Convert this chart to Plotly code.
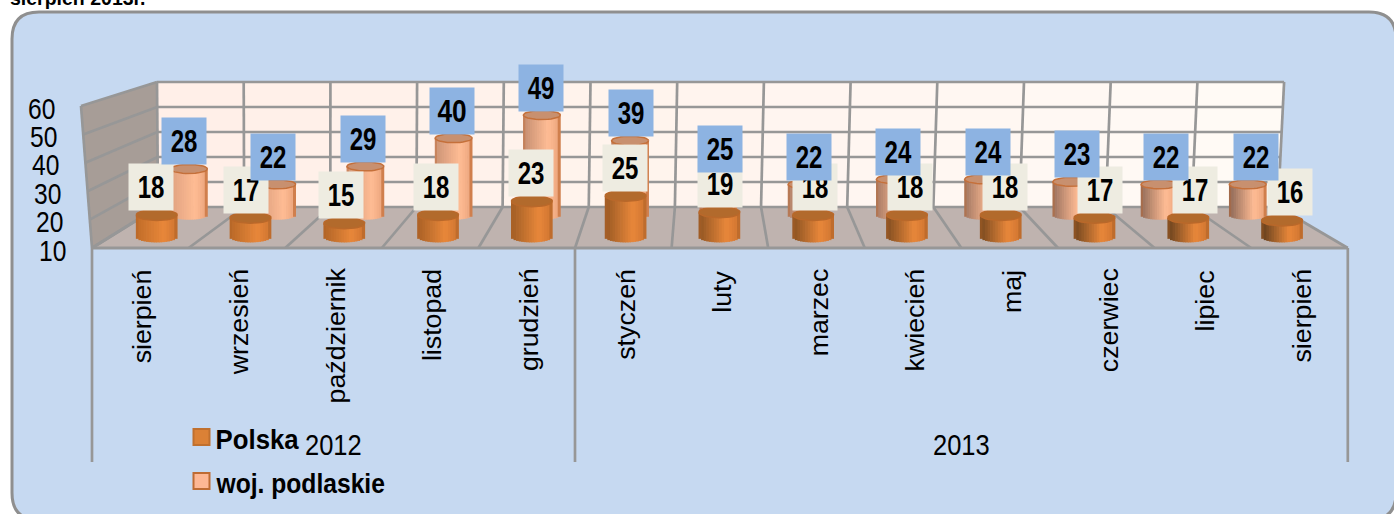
import json
import math
import plotly.graph_objects as go

months = ["sierpień", "wrzesień", "październik", "listopad", "grudzień", "styczeń", "luty",
          "marzec", "kwiecień", "maj", "czerwiec", "lipiec", "sierpień"]
years = ["2012", "2013"]
year_spans = [(0, 5), (5, 13)]
polska = [18, 17, 15, 18, 23, 25, 19, 18, 18, 18, 17, 17, 16]
podlaskie = [28, 22, 29, 40, 49, 39, 25, 22, 24, 24, 23, 22, 22]
value_ticks = [10, 20, 30, 40, 50, 60]
caption = "sierpień 2013r."

W, H = 1394, 514
SANS = "Liberation Sans, Arial, sans-serif"
GRID = "#979797"


def lerp(a, b, t):
    return a + (b - a) * t


def mix(c1, c2, t):
    a = [int(c1[i:i + 2], 16) for i in (1, 3, 5)]
    b = [int(c2[i:i + 2], 16) for i in (1, 3, 5)]
    return "#%02x%02x%02x" % tuple(round(lerp(p, q, t)) for p, q in zip(a, b))


# projection of the 3-D plot box on to the page
def floor_x(i, d):
    return lerp(92 + 96.6 * i, 158 + 86.15 * i, d)


def floor_y(d):
    return 248 - 41 * d


def unit(d):
    return lerp(2.84, 2.5, d)


def wall(i, v):
    h = (v - 10) / 50
    return lerp(158 + 86.15 * i, 157 + 86.7 * i, h), 207 - 125 * h


def side(v):
    h = (v - 10) / 50
    return 92 - 11 * h, 248 - 142 * h


def poly(points):
    return "M " + " L ".join(f"{x:.1f},{y:.1f}" for x, y in points) + " Z"


def line(p, q, width=2.7, color=GRID):
    return dict(type="line", xref="x", yref="y", layer="below", x0=p[0], y0=p[1], x1=q[0], y1=q[1],
                line=dict(color=color, width=width))


def fill_shape(points, color):
    return dict(type="path", xref="x", yref="y", layer="below", path=poly(points),
                fillcolor=color, line=dict(width=0))


shapes = []
r = 27
L, T, R, B = 12, 12, 1396, 520
panel = (f"M {L},{T + r} Q {L},{T} {L + r},{T} L {R - r},{T} Q {R},{T} {R},{T + r} L {R},{B - r} "
         f"Q {R},{B} {R - r},{B} L {L + r},{B} Q {L},{B} {L},{B - r} Z")
shapes.append(dict(type="path", xref="x", yref="y", layer="below", path=panel,
                   fillcolor="#C6D9F1", line=dict(color="#8F8F8F", width=3)))

n = len(months)
# floor and side wall
shapes.append(fill_shape([(floor_x(0, 0), floor_y(0)), (floor_x(0, 1), floor_y(1)),
                          (floor_x(n, 1), floor_y(1)), (floor_x(n, 0), floor_y(0))], "#BFB3AF"))
shapes.append(fill_shape([side(10), side(60), wall(0, 60), wall(0, 10)], "#A79D97"))
# back wall, left to right pale gradient
for i in range(n):
    t = i / (n - 1)
    shapes.append(fill_shape([wall(i, 10), wall(i, 60), wall(i + 1, 60), wall(i + 1, 10)],
                             mix("#FFEFE8", "#FFFAF5", t)))
for v in value_ticks:
    shapes.append(line(side(v), wall(0, v)))
    shapes.append(line(wall(0, v), wall(n, v)))
for i in range(n + 1):
    shapes.append(line(wall(i, 10), wall(i, 60)))
    shapes.append(line((floor_x(i, 0), floor_y(0)), (floor_x(i, 1), floor_y(1))))
shapes.append(line(side(10), side(60)))
shapes.append(line((floor_x(0, 0), floor_y(0)), (floor_x(n, 0), floor_y(0)), 3.2))
# multi-level category dividers
for k in (0, 5, n):
    shapes.append(line((floor_x(k, 0), 248), (floor_x(k, 0), 462)))


def cylinder_traces(values, name, d, width, ry, dark_left, light_left, mid, right, cap, edge):
    xs, bases, heights, colors = [], [], [], []
    cap_x, cap_y = [], []
    strips = 16
    sw = width / strips
    for i, v in enumerate(values):
        cx = floor_x(i + 0.5, d)
        base = floor_y(d)
        top = base - (v - 10) * unit(d)
        left_col = mix(light_left, dark_left, i / (len(values) - 1))
        for s in range(strips):
            u = (s + 0.5) / strips
            tt = 2 * u - 1
            low = base + ry * math.sqrt(max(0, 1 - tt * tt))
            xs.append(cx - width / 2 + sw * (s + 0.5))
            bases.append(low)
            heights.append(top - low)
            if s == 0 or s == strips - 1:
                colors.append(mix(right, edge, 0.7) if s == strips - 1 else mix(left_col, edge, 0.4))
            elif u < 0.68:
                colors.append(mix(left_col, mid, u / 0.68))
            else:
                colors.append(mix(mid, right, (u - 0.68) / 0.32))
        for k in range(37):
            a = 2 * math.pi * k / 36
            cap_x.append(cx + width / 2 * math.cos(a))
            cap_y.append(top + ry * math.sin(a))
        cap_x.append(None)
        cap_y.append(None)
    bar = go.Bar(x=xs, y=heights, base=bases, width=sw + 0.7, name=name, showlegend=False,
                 marker=dict(color=colors, line=dict(width=0)), hoverinfo="skip")
    top_cap = go.Scatter(x=cap_x, y=cap_y, mode="lines", fill="toself", fillcolor=cap,
                         line=dict(color=edge, width=1.5), showlegend=False, hoverinfo="skip")
    return bar, top_cap


back_bar, back_cap = cylinder_traces(podlaskie, "woj. podlaskie", 0.8, 37, 4.5,
                                     "#8A6656", "#DFA17F", "#FFBC94", "#E9A27A", "#C8906F", "#C5703A")
front_bar, front_cap = cylinder_traces(polska, "Polska", 0.27, 41, 5.5,
                                       "#5E3C1C", "#C06C28", "#E8873A", "#CE7430", "#B26A2C", "#B9682A")
fig = go.Figure([back_bar, front_bar, back_cap, front_cap])

annotations = []
squeeze = {}  # horizontal fit of each string, applied to the text after drawing


def text(x, y, s, size, bold=False, xanchor="center", yanchor="middle", angle=0, fit=1.0):
    annotations.append(dict(x=x, y=y, xref="x", yref="y", text=s, showarrow=False,
                            xanchor=xanchor, yanchor=yanchor, textangle=angle,
                            font=dict(family=SANS, size=size, color="#000000", weight=700 if bold else 400)))
    squeeze[s] = fit


# caption of the page, clipped by the top of the picture
text(8, 11, caption, 19.5, bold=True, xanchor="left", yanchor="bottom")

for v in value_ticks:
    x, y = side(v)
    text(x - 40, y + 2, str(v), 30, fit=0.82)

for i, m in enumerate(months):
    text(floor_x(i + 0.5, 0) + 2, 270, m, 25, yanchor="top", angle=-90, fit=1.07)

for label, (a, b) in zip(years, year_spans):
    text((floor_x(a, 0) + floor_x(b, 0)) / 2, 444, label, 30, fit=0.85)


def value_box(x, y, value, color):
    annotations.append(dict(x=x, y=y, xref="x", yref="y", text=str(value), showarrow=False,
                            width=44, height=46, align="center", valign="middle", bgcolor=color,
                            xanchor="center", yanchor="middle", borderpad=0,
                            font=dict(family=SANS, size=32, color="#000000", weight=700)))
    squeeze.setdefault(str(value), 0.75)


for i, v in enumerate(polska):
    value_box(floor_x(i + 0.5, 0.27) - 6 + 1.17 * i, floor_y(0.27) - (v - 10) * unit(0.27) - 28, v, "#EEECE1")
for i, v in enumerate(podlaskie):
    value_box(floor_x(i + 0.5, 0.8) - 5 + 1.08 * i, floor_y(0.8) - (v - 10) * unit(0.8) - 27.5, v, "#8DB3E2")

# legend
for y, cx, name, fit, fillc, edge in [(437, 257, "Polska", 0.92, "#DB8136", "#C0702E"),
                                      (481, 300, "woj. podlaskie", 0.88, "#FDB794", "#BE6B33")]:
    fig.add_trace(go.Scatter(x=[201.5], y=[y], mode="markers", name=name, showlegend=False, hoverinfo="skip",
                             marker=dict(symbol="square", size=16, color=fillc, line=dict(color=edge, width=2))))
    text(cx, y + 2, name, 28, bold=True, fit=fit)

fig.update_layout(
    width=W, height=H, margin=dict(l=0, r=0, t=0, b=0), paper_bgcolor="#FFFFFF", plot_bgcolor="rgba(0,0,0,0)",
    barmode="overlay", showlegend=False, shapes=shapes, annotations=annotations,
    xaxis=dict(range=[0, W], visible=False, fixedrange=True),
    yaxis=dict(range=[H, 0], visible=False, fixedrange=True),
)
post = """
document.body.style.margin='0';document.documentElement.style.overflow='hidden';
var fits = %s;
document.querySelectorAll('.annotation-text').forEach(function (el) {
  var f = fits[el.textContent];
  if (f && f !== 1) {
    el.setAttribute('textLength', el.getComputedTextLength() * f);
    el.setAttribute('lengthAdjust', 'spacingAndGlyphs');
  }
});
""" % json.dumps(squeeze, ensure_ascii=False)
fig.write_html("out.html", config=dict(displayModeBar=False), post_script=post)
